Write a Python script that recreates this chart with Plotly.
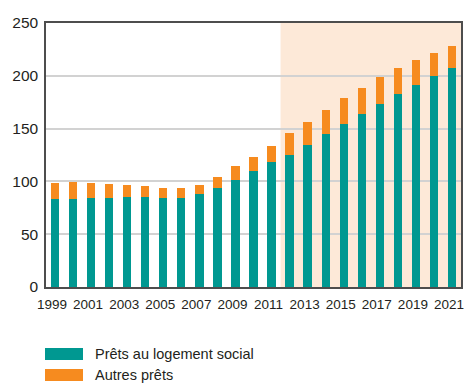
import plotly.graph_objects as go

# Encours de prêts, par année (montants)
years = list(range(1999, 2022))
prets_logement_social = [83.3, 83.3, 84.3, 84.3, 85.2, 85.2, 84.3, 84.3, 88.1, 93.8,
                         101.3, 109.8, 118.4, 125.0, 134.5, 144.9, 154.4, 163.8,
                         173.3, 182.8, 191.3, 199.8, 207.4]
totaux = [98.5, 99.4, 98.5, 97.5, 96.6, 95.6, 93.8, 93.8, 96.6, 104.2,
          114.6, 123.1, 133.5, 145.8, 156.3, 167.6, 179.0, 188.4,
          198.9, 207.4, 215.0, 221.6, 228.2]
autres_prets = [round(t - s, 1) for t, s in zip(totaux, prets_logement_social)]

TEAL = "#009891"
ORANGE = "#F68B1F"
SHADE = "#FDE9D8"
TEXT = "#231F20"
FONT = "Liberation Sans, Arial, sans-serif"

fig = go.Figure()
fig.add_trace(go.Bar(x=years, y=prets_logement_social, name="Prêts au logement social",
                     marker=dict(color=TEAL, line=dict(width=0)), width=0.46))
fig.add_trace(go.Bar(x=years, y=autres_prets, name="Autres prêts",
                     marker=dict(color=ORANGE, line=dict(width=0)), width=0.46))

# Période mise en évidence (2012-2021)
fig.add_shape(type="rect", xref="x", yref="y", x0=2011.5, x1=2021.5, y0=0, y1=250,
              fillcolor=SHADE, line=dict(width=0), layer="below")

# Légende dessinée à la main
legend_items = [("Prêts au logement social", TEAL), ("Autres prêts", ORANGE)]
for i, (label, color) in enumerate(legend_items):
    yc = 354 + 21 * i
    fig.add_shape(type="rect", xref="paper", yref="paper",
                  x0=(45 - 46) / 415, x1=(83 - 46) / 415,
                  y0=(287 - (yc + 6)) / 264, y1=(287 - (yc - 6)) / 264,
                  fillcolor=color, line=dict(width=0))
    fig.add_annotation(xref="paper", yref="paper", x=(93 - 46) / 415,
                       y=(287 - yc) / 264, text=label, showarrow=False,
                       xanchor="left", yanchor="middle",
                       font=dict(family=FONT, size=14.5, color=TEXT))

fig.update_layout(
    width=465, height=383,
    margin=dict(l=46, r=4, t=23, b=96, autoexpand=False),
    barmode="stack",
    showlegend=False,
    plot_bgcolor="white",
    paper_bgcolor="white",
    font=dict(family=FONT, size=14.5, color=TEXT),
    xaxis=dict(range=[1998.5, 2021.5], tickmode="linear", tick0=1999, dtick=2,
               tickangle=0, tickfont=dict(size=13.5), ticklabeloverflow="allow",
               ticklabelshift=-3, automargin=False,
               showgrid=False, showline=True, linecolor="#4D4D4D", linewidth=1.5,
               mirror=True, ticks="outside", ticklen=4, tickcolor="rgba(0,0,0,0)",
               fixedrange=True),
    yaxis=dict(range=[0, 250], tickmode="linear", tick0=0, dtick=50,
               tickfont=dict(size=15.5), automargin=False,
               showgrid=True, gridcolor="#D2D2D2", gridwidth=1.5,
               showline=True, linecolor="#4D4D4D", linewidth=1.5,
               mirror=True, ticks="outside", ticklen=3, tickcolor="rgba(0,0,0,0)",
               zeroline=False, fixedrange=True),
)

fig.write_html("out.html")
